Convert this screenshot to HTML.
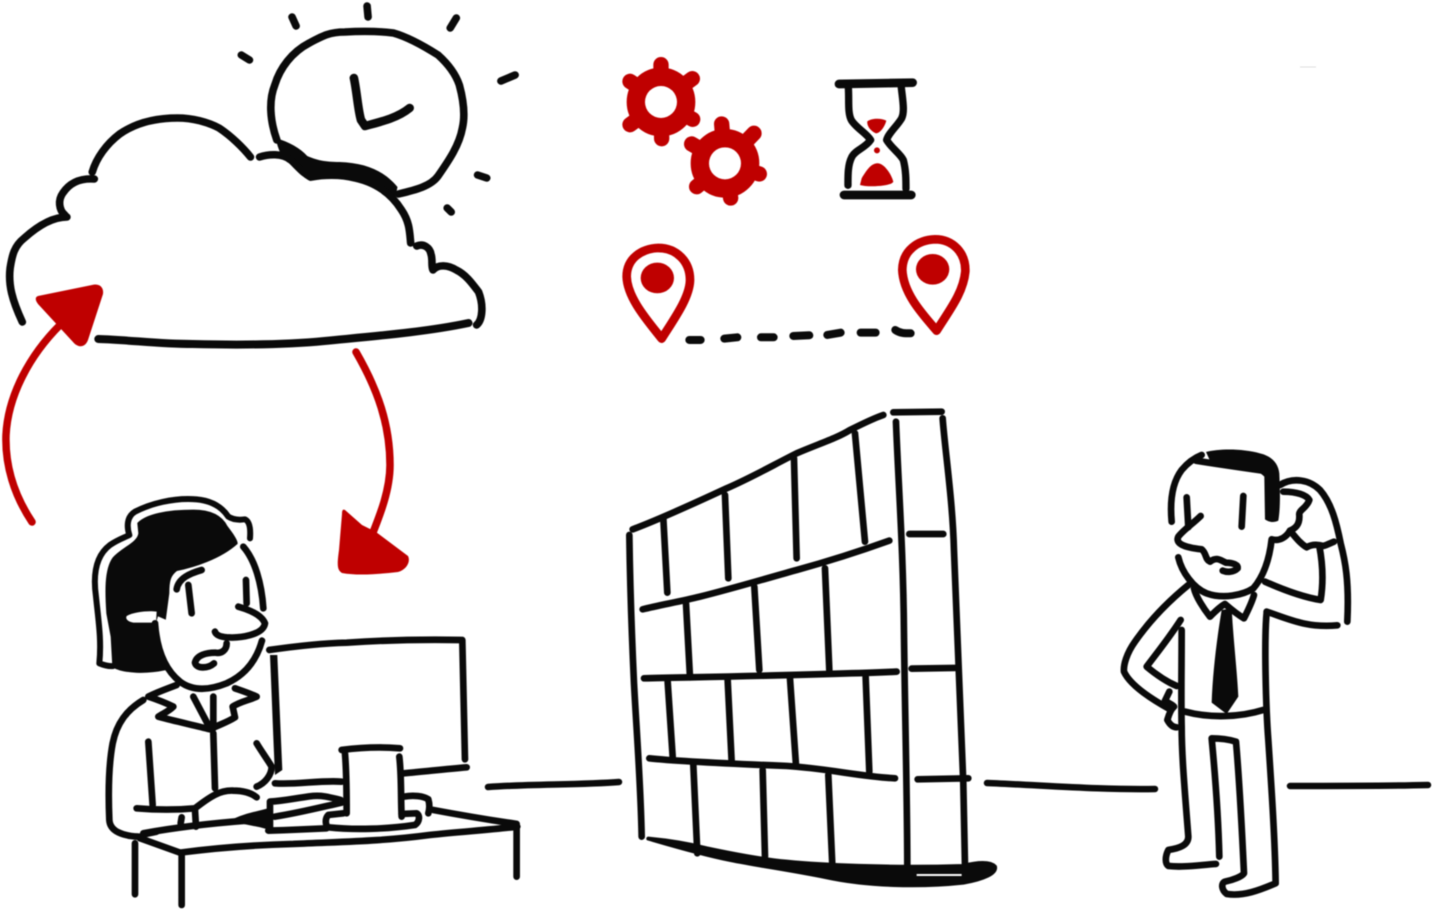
<!DOCTYPE html>
<html>
<head>
<meta charset="utf-8">
<title>Diagram</title>
<style>
html,body{margin:0;padding:0;background:#fff;width:1432px;height:910px;overflow:hidden}
svg{display:block;filter:blur(.4px)}
.k{fill:none;stroke:#0a0a0a;stroke-linecap:round;stroke-linejoin:round}
.r{fill:none;stroke:#bf0000;stroke-linecap:round;stroke-linejoin:round}
</style>
</head>
<body>
<svg width="1432" height="910" viewBox="0 0 1432 910" xmlns="http://www.w3.org/2000/svg">
<g transform="scale(1.014 1)">
<!-- clock -->
<g class="k" stroke-width="7.5">
<path d="M273 140C266 120 265 100 271 85C276 68 288 52 305 43C318 36 325 32 340 32C355 31 372 31 388 33C402 37 418 46 432 55C443 65 450 76 453 85C457 100 459 115 456 128C453 145 443 160 432 176C425 186 410 190 393 194"/>
<path d="M349 78C352 92 353 110 356 120L360 126C375 122 392 118 404 108" stroke-width="8.5"/>
<path d="M238 55L246 60M288 17L292 26M362 6L363 17M450 18L444 28M508 75L494 81M471 175L480 178M441 208L445 212" stroke-width="7.5"/>
</g>
<!-- thick overlap -->
<path d="M272 138C285 142 296 148 303 156C312 160 320 162 335 162C360 163 378 170 392 187L390 197C378 188 362 180 340 178C325 177 315 178 306 181C298 178 292 167 283 162C278 157 274 150 272 138Z" fill="#0a0a0a"/>
<!-- cloud -->
<g class="k" stroke-width="7.5">
<path d="M22 322C12 300 8 285 10 268C12 255 14 246 24 238C35 228 50 217 66 217"/>
<path d="M64 215C58 210 57 200 62 193C68 184 77 178 93 179"/>
<path d="M91 172C95 158 105 144 118 134C135 122 155 118 175 118C190 118 205 122 216 128C228 136 240 148 247 157"/>
<path d="M256 157C265 154 278 153 287 160C297 170 300 174 307 177C318 175 335 174 350 178C368 182 385 192 396 210C404 222 404 232 405 243"/>
<path d="M411 246C418 243 424 248 425 254C427 260 425 266 427 270C432 264 442 265 450 270C460 275 466 284 472 292C477 305 476 320 470 325"/>
<path d="M97 339C130 340 155 344 190 344C230 345 280 345 320 341C370 336 420 332 462 323" stroke-width="8"/>
</g>
</g>
<!-- gears, hourglass, pins -->
<g transform="translate(610 50) scale(.3333)">
<g class="r">
<circle cx="153" cy="156" r="75" stroke-width="56"/>
<path d="M153 156L153 44M153 156L247 86M153 156L248 208M153 156L155 266M153 156L60 224M153 156L60 94" stroke-width="46"/>
<circle cx="345" cy="340" r="75" stroke-width="56"/>
<path d="M345 340L335 222M345 340L432 250M345 340L448 372M345 340L362 444M345 340L260 410M345 340L245 282" stroke-width="46"/>
</g>
<circle cx="153" cy="156" r="48" fill="#fff"/>
<circle cx="345" cy="340" r="48" fill="#fff"/>
<path class="r" stroke-width="26" d="M155 866C115 815 52 745 50 680C50 625 95 596 145 594C200 594 241 635 240 692C238 745 190 810 155 866Z"/>
<ellipse cx="142" cy="684" rx="50" ry="46" fill="#bf0000"/>
<path class="r" stroke-width="26" d="M980 842C935 790 880 730 877 660C878 600 925 570 975 568C1030 568 1068 610 1066 665C1060 730 1015 785 980 842Z"/>
<ellipse cx="968" cy="658" rx="50" ry="46" fill="#bf0000"/>
<path class="k" stroke-width="24" d="M238 870H272M343 866L382 862M453 862H491M550 858L598 856M652 855L692 848M752 848H797M856 840C870 850 885 850 902 850"/>
<g class="k">
<path d="M687 102L908 98M702 435H904" stroke-width="26"/>
<path d="M715 112C718 150 712 190 725 212C740 235 770 250 782 270C765 295 735 300 725 322C713 345 714 380 714 406M874 112C878 150 885 185 875 205C860 230 835 250 830 270C845 295 870 310 880 330C888 360 888 390 888 416" stroke-width="22"/>
</g>
<path d="M772 214C785 204 815 204 829 212C825 230 810 250 798 250C785 245 770 230 772 214ZM755 385C770 360 785 338 805 340C825 342 845 375 850 395C845 410 770 412 750 405Z" fill="#bf0000"/>
<circle cx="801" cy="301" r="9" fill="#bf0000"/>
</g>
<!-- red arrows -->
<path class="r" stroke-width="7.5" d="M32 522C14 495 5 465 6 435C8 395 30 355 60 325"/>
<path d="M38 296L92 285C100 283 104 288 103 294L88 340C85 348 78 348 73 342L38 304C35 300 35 297 38 296Z" fill="#bf0000"/>
<path class="r" stroke-width="7.5" d="M356 352C378 390 390 425 390 465C390 490 380 515 372 535"/>
<path d="M345 510L362 525L376 532L408 556C411 562 406 570 398 572C380 574 358 576 342 573C337 570 337 565 339 550L342 514C342 510 343 509 345 510Z" fill="#bf0000"/>
<!-- ground -->
<g class="k" stroke-width="6.5">
<path d="M488 787C530 784 580 785 619 782M987 783C1040 785 1100 790 1155 789M1290 786C1340 786 1390 786 1428 785"/>
</g>
<!-- wall -->
<g transform="translate(620 400) scale(.3333)">
<path d="M85 1316C150 1322 200 1330 260 1345C340 1362 420 1378 500 1385C600 1395 800 1405 1030 1398C1070 1388 1110 1385 1125 1400C1130 1420 1090 1438 1030 1448C900 1462 740 1458 620 1432C500 1408 420 1398 330 1380C240 1362 150 1335 85 1316Z" fill="#0a0a0a" stroke="#0a0a0a" stroke-width="12" stroke-linejoin="round"/>
<path d="M890 1425H1025" stroke="#fff" stroke-width="6" fill="none"/>
<g class="k" stroke-width="20">
<path d="M38 388C100 365 180 330 320 265C400 230 460 195 530 160C600 130 650 115 690 90C720 75 760 55 790 45"/>
<path d="M28 405C30 550 35 700 42 850C50 1000 62 1150 65 1310"/>
<path d="M820 37L965 35"/>
<path d="M828 65C835 250 850 450 852 700C855 950 862 1200 862 1410"/>
<path d="M968 55C975 150 998 300 1002 450C1010 650 1022 900 1030 1150L1035 1395"/>
<path d="M130 355L142 578M315 285L325 535M522 175L530 475M705 100L735 425"/>
<path d="M68 628C120 615 180 605 240 590C340 565 440 535 530 510C640 480 730 450 808 422"/>
<path d="M198 610L210 832M403 560L418 810M615 505L628 810"/>
<path d="M72 835C300 830 600 825 830 815"/>
<path d="M143 845L158 1070M323 840L335 1085M510 835L528 1095M737 830L748 1115"/>
<path d="M88 1075C180 1085 350 1092 500 1098C620 1105 720 1130 825 1135"/>
<path d="M220 1095L232 1360M428 1110L435 1370M625 1125L637 1395"/>
<path d="M868 402H970M875 806L1005 804M893 1138L1045 1135"/>
</g>
</g>
<!-- woman and desk -->
<g transform="translate(80 480) scale(.3333)">
<path d="M175 130C200 105 260 92 340 92C395 92 425 110 440 140C455 160 470 180 470 190C420 235 340 260 290 270C270 285 265 300 265 340L255 415L232 405L225 428C228 470 232 530 255 568C200 580 130 578 100 560L95 470L82 400C78 340 75 270 100 235C125 205 175 190 178 160Z" fill="#0a0a0a" stroke="#0a0a0a" stroke-width="6"/>
<path d="M140 408C165 395 205 392 230 395L228 428H160C145 425 135 418 140 408Z" fill="#fff"/>
<g class="k" stroke-width="20">
<path d="M100 558C85 560 70 555 58 550C65 480 55 420 48 350C38 280 50 225 90 195C115 178 135 172 148 165C140 140 140 110 165 95C210 72 280 52 350 58C395 62 425 80 445 110C460 120 480 120 495 118C510 125 512 150 510 175" stroke-width="18"/>
<path d="M490 200C525 240 545 310 550 385"/>
<path d="M225 430C230 500 250 565 300 605C340 635 390 630 440 610C495 585 530 540 546 482"/>
<path d="M498 300L500 370M475 380C510 390 545 405 555 430C550 465 480 475 440 472C420 470 408 465 405 455"/>
<path d="M440 490C440 510 425 522 405 518C380 518 350 525 345 548C350 568 385 565 402 550"/>
<path d="M325 315L335 400M290 328C295 295 330 280 365 270"/>
<path d="M205 650C235 635 265 625 290 615M205 650C235 660 260 670 280 680C265 695 250 700 235 710C290 725 340 735 390 748C415 735 440 728 465 712L458 680C480 665 510 660 530 650C510 640 485 632 465 625"/>
<path d="M340 650L390 745M400 650V745"/>
<path d="M190 660C140 690 110 730 98 790C85 860 85 950 88 1020C90 1055 130 1068 175 1070"/>
<path d="M205 785L218 975M400 760L405 925"/>
<path d="M530 790C545 815 560 835 575 860C575 885 555 910 530 920"/>
<path d="M170 985C230 990 290 990 345 985C390 950 420 930 460 932C490 932 515 940 530 952"/>
<path d="M345 990L348 1040M305 1012L302 1030"/>
<path d="M190 1060C300 1040 420 1028 500 1022"/>
<path d="M570 965C620 962 640 955 700 948C730 945 760 955 782 960M570 965V1050M565 1052C630 1050 680 1048 740 1045M585 1010C650 1000 710 985 785 968"/>
<path d="M745 1005L790 1000M745 1005C735 1015 735 1035 745 1042C820 1050 920 1048 1005 1035C1020 1025 1020 1005 1010 1000L965 1002"/>
<path d="M785 810C840 803 900 800 960 805M795 820C800 880 800 940 800 1000M958 830C965 890 962 950 965 1010"/>
<path d="M568 510C650 498 720 490 800 488C920 480 1030 478 1142 480M1147 480C1150 600 1152 720 1155 838M1160 862C1090 868 1030 875 972 880M785 905C720 900 650 915 585 910"/>
<path d="M972 950C1000 945 1030 948 1045 958C1050 975 1048 990 1045 1000"/>
<path d="M180 1075L300 1118C400 1105 520 1095 640 1092C780 1085 900 1085 1050 1065C1140 1055 1230 1050 1312 1040M1060 990C1140 1005 1230 1020 1310 1032"/>
<path d="M165 1090L165 1243M305 1125L305 1275M1310 1045V1190"/>
<path d="M185 1068C200 1058 215 1060 230 1055"/>
</g>
<path d="M570 525L592 525L607 870L585 885C580 780 575 640 570 525Z" fill="#0a0a0a"/>
<path d="M450 1022C490 1000 530 995 565 985L570 1050L540 1042L480 1030Z" fill="#0a0a0a"/>
</g>
<!-- man -->
<g transform="translate(1110 440) scale(.3333)">
<path d="M288 36C330 25 400 26 450 40C485 48 505 70 508 100C510 150 512 200 505 242C490 250 475 245 465 238L463 110C440 85 380 70 300 62Z" fill="#0a0a0a"/>
<g class="k" stroke-width="20">
<path d="M185 245C180 190 185 130 215 90C230 72 250 55 275 45M258 62C320 72 390 82 460 92"/>
<path d="M230 172L235 262M400 168L395 260"/>
<path d="M272 228C250 250 220 270 205 290C195 310 220 322 275 328C290 340 285 358 300 365C320 350 330 360 348 368C370 368 385 375 383 385C370 398 350 397 338 392"/>
<path d="M205 352C215 395 250 445 290 460C340 478 400 465 430 445C460 410 478 360 485 298C510 305 530 290 540 272C555 265 570 255 568 225C565 210 590 205 598 180C590 165 560 155 520 155M510 135C550 110 600 120 630 150C665 190 680 250 692 310C705 360 718 420 712 545"/>
<path d="M465 425C510 445 570 470 632 480C640 430 640 380 628 318"/>
<path d="M540 272C555 290 570 310 590 322C610 310 630 315 640 318C650 315 660 310 672 305"/>
<path d="M470 515C530 535 590 565 682 556"/>
<path d="M235 435C180 480 120 540 75 605C50 640 40 675 42 695C60 735 120 775 180 808"/>
<path d="M212 540C180 590 140 640 110 680C140 705 170 725 200 738"/>
<path d="M178 755L165 782C175 790 190 795 192 800C180 810 175 830 172 840C180 855 190 862 200 862"/>
<path d="M215 570C215 680 213 780 215 860C215 950 225 1060 235 1190C235 1215 210 1225 175 1230C165 1250 165 1270 175 1278C220 1283 270 1275 318 1272"/>
<path d="M470 518C462 600 468 810 475 900C485 1050 495 1200 497 1330C450 1350 400 1370 350 1362C335 1350 332 1330 345 1325C370 1320 395 1310 402 1300C395 1150 388 1020 378 905C355 898 330 895 305 895C315 1000 325 1130 328 1250"/>
<path d="M225 815C300 835 390 832 460 810"/>
<path d="M252 445C258 470 280 505 300 530C315 515 330 500 345 492C360 505 385 525 402 535C412 515 425 490 432 465"/>
</g>
<path d="M335 510L365 505C370 600 382 700 385 770L350 822L305 788C308 700 320 600 335 510Z" fill="#0a0a0a"/>
</g>
<path d="M1300 67H1316" stroke="#dedede" stroke-width="1" fill="none"/>
</svg>
</body>
</html>
